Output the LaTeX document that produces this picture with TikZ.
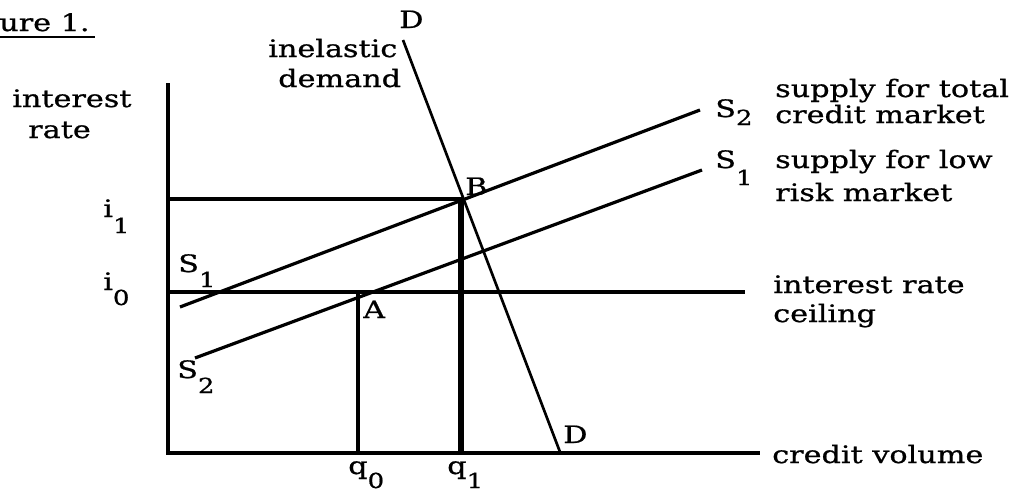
\documentclass[tikz,border=0pt]{standalone}
\usepackage{fontspec}
\setmainfont{DejaVu Serif}[FakeStretch=1.26,FakeBold=0.8]
\newcommand\lsub[2]{\raisebox{-#1}{\fontsize{15.5}{18}\selectfont #2}}
\begin{document}
\begin{tikzpicture}[x=0.75pt,y=-0.75pt,
  lbl/.style={anchor=base west,inner sep=0pt,font=\fontsize{18}{21}\selectfont},
  axisline/.style={line width=2.7pt,line cap=rect},
  curve/.style={line width=2.4pt},
  demandline/.style={line width=2pt},
  guide/.style={line width=2.5pt},
  thickguide/.style={line width=4pt},
  underl/.style={line width=1.6pt}]
\useasboundingbox (0,0) rectangle (1018,493);
% coordinates
\coordinate (Ytop) at (168,85);
\coordinate (O) at (168,453);
\coordinate (Xend) at (758,453);
\coordinate (I1) at (168,199);
\coordinate (B) at (462,199);
\coordinate (I0) at (168,292);
\coordinate (Cend) at (745,292);
\coordinate (S2a) at (180,307);
\coordinate (S2b) at (700,110);
\coordinate (S1a) at (195,358);
\coordinate (S1b) at (702,170);
\coordinate (Dtop) at (403,40);
\coordinate (Dbot) at (560,452);
\coordinate (Q0) at (358,453);
\coordinate (A) at (358,292);
\coordinate (Q1) at (461,453);
\coordinate (Q1top) at (461,200);
\coordinate (UL1) at (0,37);
\coordinate (UL2) at (95,37);
% lines
\draw[axisline] (Ytop) -- (O) -- (Xend);
\draw[guide] (I1) -- (B);
\draw[curve] (I0) -- (Cend);
\draw[curve] (S2a) -- (S2b);
\draw[curve] (S1a) -- (S1b);
\draw[demandline] (Dtop) -- (Dbot);
\draw[guide,line width=2.9pt] (Q0) -- (A);
\draw[thickguide] (Q1) -- (Q1top);
\draw[underl] (UL1) -- (UL2);
% labels
\node[lbl] (fig) at (-1,31) {ure 1.};
\node[lbl] (yl1) at (12,107) {interest};
\node[lbl] (yl2) at (28,138) {rate};
\node[lbl] (li1) at (103,217) {i\lsub{12pt}{1}};
\node[lbl] (li0) at (103,290) {i\lsub{11.25pt}{0}};
\node[lbl] (ls1l) at (178,272) {S\lsub{11.25pt}{1}};
\node[lbl] (ls2l) at (177,378) {S\lsub{11.25pt}{2}};
\node[lbl] (dl1) at (268,57) {inelastic};
\node[lbl] (dl2) at (278,87) {demand};
\node[lbl] (ldt) at (399,28) {D};
\node[lbl] (lA) at (363,318) {A};
\node[lbl] (lB) at (465,195) {B};
\node[lbl] (ldb) at (563,443) {D};
\node[lbl] (lq0) at (348,474) {q\lsub{10.5pt}{0}};
\node[lbl] (lq1) at (447,474) {q\lsub{10.5pt}{1}};
\node[lbl] (xl) at (772,463) {credit volume};
\node[lbl] (cl1) at (773,293) {interest rate};
\node[lbl] (cl2) at (773,322) {ceiling};
\node[lbl] (ls2r) at (715,117) {S\lsub{6pt}{2}};
\node[lbl] (t1) at (775,97) {supply for total};
\node[lbl] (t2) at (775,123) {credit market};
\node[lbl] (ls1r) at (715,168) {S\lsub{12.75pt}{1}};
\node[lbl] (r1) at (775,168) {supply for low};
\node[lbl] (r2) at (775,201) {risk market};
\end{tikzpicture}
\end{document}
